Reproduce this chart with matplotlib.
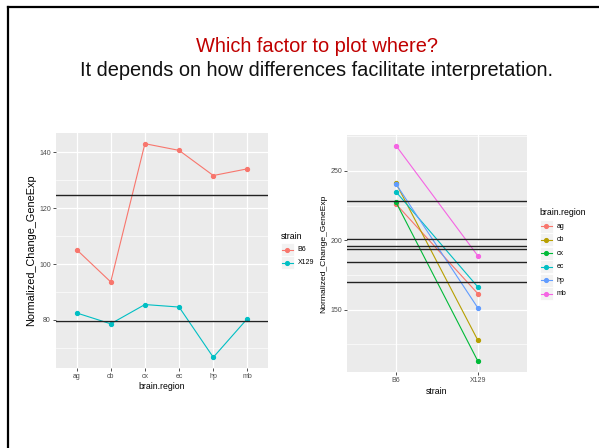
import matplotlib
matplotlib.use("Agg")
import matplotlib.pyplot as plt
import numpy as np
from matplotlib.lines import Line2D
from matplotlib.patches import Rectangle

plt.rcParams['font.family'] = ['Liberation Sans', 'DejaVu Sans']

# ---------------- data ----------------
regions = ['ag', 'cb', 'cx', 'ec', 'hp', 'mb']
strains = ['B6', 'X129']
left_b6 = [105.2, 93.6, 143.1, 140.7, 131.7, 134.1]
left_x129 = [82.5, 78.6, 85.5, 84.6, 66.6, 80.5]
right_b6 = [226.0, 240.9, 227.2, 234.8, 240.4, 268.0]
right_x129 = [161.5, 127.9, 112.9, 166.3, 151.2, 188.7]
strain_colors = ['#F8766D', '#00BFC4']
region_colors = ['#F8766D', '#B79F00', '#00BA38', '#00BFC4', '#619CFF', '#F564E3']
left_yticks = [80, 100, 120, 140]
right_yticks = [150, 200, 250]

W, H = 599, 448
fig = plt.figure(figsize=(W / 100, H / 100), dpi=100)
fig.patch.set_facecolor('white')


def fx(px):
    return px / W


def fy(py):
    return 1 - py / H


def add_ax(l, t, r, b):
    return fig.add_axes([fx(l), fy(b), fx(r) - fx(l), (b - t) / H])


GRAY_BG = '#EBEBEB'
TICK_COL = '#4D4D4D'


def style(ax, ymajor, yminor):
    ax.set_facecolor(GRAY_BG)
    for s in ax.spines.values():
        s.set_visible(False)
    ax.set_yticks(ymajor)
    ax.set_yticks(yminor, minor=True)
    ax.grid(True, which='major', color='white', lw=0.9)
    ax.grid(True, which='minor', axis='y', color='white', lw=0.45)
    ax.set_axisbelow(True)
    ax.tick_params(axis='both', which='major', length=2.2, width=0.6, color='#333333',
                   labelsize=5.0, labelcolor=TICK_COL, pad=1.5)
    ax.tick_params(axis='y', which='minor', length=0)


# ---------------- left panel ----------------
axL = add_ax(56, 133, 268, 368)
xs = np.arange(1, len(regions) + 1)
for vals, c in zip([left_b6, left_x129], strain_colors):
    axL.plot(xs, vals, color=c, lw=0.8, marker='o', ms=2.8, zorder=3)
    axL.axhline(np.mean(vals), color='#222222', lw=1.0, zorder=4)
lo = min(left_b6 + left_x129); hi = max(left_b6 + left_x129)
pad = (hi - lo) * 0.05
axL.set_ylim(lo - pad, hi + pad)
axL.set_xlim(0.4, len(regions) + 0.6)
axL.set_xticks(xs)
axL.set_xticklabels(regions)
style(axL, left_yticks, [70, 90, 110, 130])
axL.set_xlabel('brain.region', fontsize=6.3, labelpad=1.5)
axL.set_ylabel('Normalized_Change_GeneExp', fontsize=7.8, labelpad=2)

# ---------------- right panel ----------------
axR = add_ax(347, 135, 527, 372)
xs2 = np.arange(1, len(strains) + 1)
for b, x, c in zip(right_b6, right_x129, region_colors):
    axR.plot(xs2, [b, x], color=c, lw=0.8, marker='o', ms=2.8, zorder=3)
    axR.axhline((b + x) / 2, color='#222222', lw=1.0, zorder=4)
lo = min(right_b6 + right_x129); hi = max(right_b6 + right_x129)
pad = (hi - lo) * 0.05
axR.set_ylim(lo - pad, hi + pad)
axR.set_xlim(0.4, len(strains) + 0.6)
axR.set_xticks(xs2)
axR.set_xticklabels(strains)
style(axR, right_yticks, [125, 175, 225, 275])
axR.set_xlabel('strain', fontsize=6.3, labelpad=2)
axR.set_ylabel('Normalized_Change_GeneExp', fontsize=6.1, labelpad=2)


# ---------------- legends (drawn manually, ggplot-style) ----------------
def legend(x0, title_y, first_y, step, labels, colors):
    fig.text(fx(x0), fy(title_y), labels[0], fontsize=6.3, color='black',
             ha='left', va='center')
    for i, (lab, c) in enumerate(zip(labels[1], colors)):
        cy = first_y + i * step
        fig.patches.append(Rectangle((fx(x0), fy(cy + 6.5)), 13 / W, 13 / H,
                                     transform=fig.transFigure, facecolor='#F2F2F2',
                                     edgecolor='white', lw=0.6))
        fig.lines.append(Line2D([fx(x0 + 1), fx(x0 + 12)], [fy(cy), fy(cy)],
                                transform=fig.transFigure, color=c, lw=0.8))
        fig.lines.append(Line2D([fx(x0 + 6.5)], [fy(cy)], transform=fig.transFigure,
                                color=c, marker='o', ms=2.7, lw=0))
        fig.text(fx(x0 + 17), fy(cy), lab, fontsize=5.0, color='black',
                 ha='left', va='center')


legend(280.5, 236, 249.5, 13.2, ('strain', strains), strain_colors)
legend(539.5, 212, 226.5, 13.4, ('brain.region', regions), region_colors)

# ---------------- slide titles and frame ----------------
fig.text(fx(317), fy(52), 'Which factor to plot where?', fontsize=14.4,
         color='#C00000', ha='center', va='baseline')
fig.text(fx(317), fy(75.5), 'It depends on how differences facilitate interpretation.',
         fontsize=14.4, color='#111111', ha='center', va='baseline')
fig.lines.append(Line2D([fx(8), fx(W + 5)], [fy(7.5), fy(7.5)],
                        transform=fig.transFigure, color='black', lw=1.6))
fig.lines.append(Line2D([fx(8), fx(8)], [fy(7.5), fy(H + 5)],
                        transform=fig.transFigure, color='black', lw=1.6))

fig.savefig('out.png', dpi=100, facecolor='white')
